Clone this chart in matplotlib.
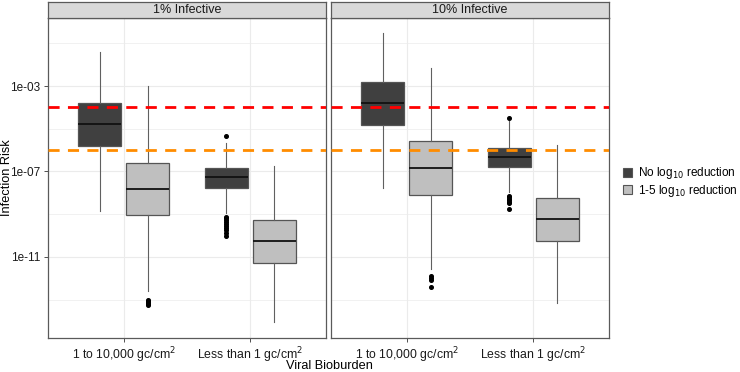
import matplotlib
matplotlib.use("Agg")
import matplotlib.pyplot as plt
from matplotlib.patches import Patch
from matplotlib.ticker import NullFormatter, FixedLocator
import numpy as np

plt.rcParams['font.family'] = ['Liberation Sans', 'DejaVu Sans']

panels = ["1% Infective", "10% Infective"]
categories = ["1 to 10,000 gc/cm$^2$", "Less than 1 gc/cm$^2$"]
groups = ["No log$_{10}$ reduction", "1-5 log$_{10}$ reduction"]
group_colors = ["#404040", "#BFBFBF"]

# log10 stats per panel -> category -> group: (whislo, q1, med, q3, whishi)
stats_1pct = [
    [(-8.85, -5.81, -4.79, -3.78, -1.42), (-12.62, -9.05, -7.83, -6.62, -3.0)],
    [(-8.95, -7.79, -7.27, -6.85, -5.68), (-14.07, -11.3, -10.24, -9.28, -6.74)],
]
fliers_1pct = [
    [[], [-13.0, -13.05, -13.1, -13.15, -13.2, -13.25]],
    [[-5.34, -9.13, -9.2, -9.28, -9.35, -9.45, -9.55, -9.65, -9.75, -9.88, -10.0], []],
]
stats_10pct = [
    [(-7.79, -4.81, -3.78, -2.8, -0.53), (-11.58, -8.1, -6.82, -5.56, -2.17)],
    [(-7.95, -6.79, -6.32, -5.88, -4.62), (-13.17, -10.24, -9.25, -8.22, -5.76)],
]
fliers_10pct = [
    [[], [-11.92, -12.0, -12.1, -12.42]],
    [[-4.47, -8.15, -8.2, -8.27, -8.35, -8.42, -8.5, -8.77], []],
]
all_stats = [stats_1pct, stats_10pct]
all_fliers = [fliers_1pct, fliers_10pct]

red_line = 1e-4
orange_line = 1e-6

W, H = 740, 372
fig = plt.figure(figsize=(W / 100, H / 100), dpi=100)

panel_x = [48, 331]
panel_w = 278
panel_top, panel_bot = 18.3, 337.7
strip_top = 1.5

ylo, yhi = 10 ** -14.79, 10 ** 0.18
offsets = [-0.19, 0.19]
bw = 0.34

for p in range(2):
    ax = fig.add_axes([panel_x[p] / W, (H - panel_bot) / H, panel_w / W,
                       (panel_bot - panel_top) / H])
    ax.set_yscale('log')
    ax.set_xlim(0.4, 2.6)
    ax.set_ylim(ylo, yhi)
    ax.set_facecolor('white')
    ax.yaxis.set_major_locator(FixedLocator([1e-3, 1e-7, 1e-11]))
    ax.yaxis.set_minor_locator(FixedLocator([1e-1, 1e-5, 1e-9, 1e-13]))
    ax.yaxis.set_minor_formatter(NullFormatter())
    ax.set_xticks([1, 2])
    ax.grid(True, which='major', color='#EBEBEB', lw=0.8, zorder=0)
    ax.grid(True, which='minor', axis='y', color='#EBEBEB', lw=0.5, zorder=0)
    ax.set_axisbelow(True)
    if p == 0:
        ax.set_yticklabels(["1e-03", "1e-07", "1e-11"], fontsize=8.5, color='#1A1A1A')
    else:
        ax.yaxis.set_major_formatter(NullFormatter())
    ax.set_xticklabels(categories, fontsize=8.8, color='#1A1A1A')
    ax.tick_params(which='major', length=3, width=0.6, color='#333333', pad=2.5)
    ax.tick_params(which='minor', length=0)
    if p == 1:
        ax.tick_params(axis='y', which='major', length=0)
    for s in ax.spines.values():
        s.set_color('#5A5A5A')
        s.set_linewidth(0.9)

    for c in range(2):
        for g in range(2):
            lo, q1, med, q3, hi = all_stats[p][c][g]
            st = dict(whislo=10 ** lo, q1=10 ** q1, med=10 ** med, q3=10 ** q3,
                      whishi=10 ** hi, fliers=[10 ** v for v in all_fliers[p][c][g]])
            ax.bxp([st], positions=[c + 1 + offsets[g]], widths=bw, patch_artist=True,
                   showcaps=False,
                   boxprops=dict(facecolor=group_colors[g], edgecolor='#555555', lw=0.9),
                   medianprops=dict(color='#111111', lw=1.3),
                   whiskerprops=dict(color='#606060', lw=0.8),
                   flierprops=dict(marker='o', markersize=2.6, markerfacecolor='black',
                                   markeredgecolor='black'),
                   manage_ticks=False, zorder=3)

    ax.axhline(red_line, color='#FF0000', lw=2, ls=(0, (4, 3)), zorder=4)
    ax.axhline(orange_line, color='#FF8C00', lw=2, ls=(0, (4, 3)), zorder=4)

    # strip
    sax = fig.add_axes([panel_x[p] / W, (H - panel_top) / H, panel_w / W,
                        (panel_top - strip_top) / H])
    sax.set_facecolor('#D9D9D9')
    sax.set_xticks([]); sax.set_yticks([])
    for s in sax.spines.values():
        s.set_color('#5A5A5A')
        s.set_linewidth(0.9)
    sax.text(0.5, 0.5, panels[p], ha='center', va='center', fontsize=9,
             color='#1A1A1A', transform=sax.transAxes)

fig.text(329 / W, 1 - 366 / H, "Viral Bioburden", ha='center', va='center', fontsize=9.2)
fig.text(7 / W, 1 - 178 / H, "Infection Risk", ha='center', va='center', fontsize=9.2,
         rotation=90)

handles = [Patch(facecolor=group_colors[g], edgecolor='#555555', lw=0.8) for g in range(2)]
fig.legend(handles, groups, loc='center left', bbox_to_anchor=(623 / W, 1 - 182 / H),
           frameon=False, fontsize=8.5, handlelength=0.8, handleheight=0.8,
           handletextpad=0.5, labelspacing=0.1, borderaxespad=0, borderpad=0)

fig.savefig("out.png", dpi=100, facecolor='white')
